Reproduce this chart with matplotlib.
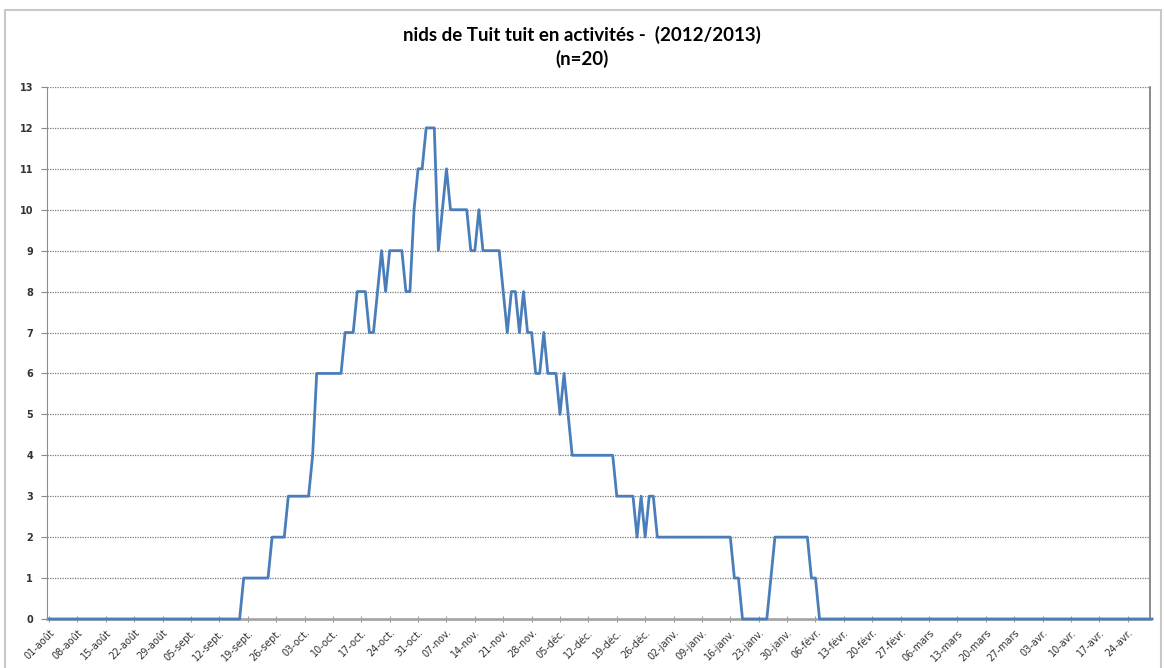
import matplotlib.pyplot as plt
from matplotlib.patches import Rectangle

# nests in activity per day, starting 01 Aug 2012
aout = [0] * 31
sept = [0] * 17 + [1, 1, 1, 1, 1, 1, 1, 2, 2, 2, 2, 3, 3, 3, 3]
octo = [3, 3, 4, 6, 6, 6, 6, 6, 6, 6, 7, 7, 7, 8, 8, 8, 7, 7, 8, 9,
        8, 9, 9, 9, 9, 8, 8, 10, 11, 11, 12]
nov = [12, 12, 9, 10, 11, 10, 10, 10, 10, 10, 9, 9, 10, 9, 9, 9, 9, 9, 8, 7,
       8, 8, 7, 8, 7, 7, 6, 6, 7, 6]
dec = [6, 6, 5, 6, 5, 4, 4, 4, 4, 4, 4, 4, 4, 4, 4, 4, 3, 3, 3, 3,
       3, 2, 3, 2, 3, 3, 2, 2, 2, 2, 2]
janv = [2] * 14 + [1, 1] + [0] * 7 + [1] + [2] * 7
fevr = [2, 2, 1, 1] + [0] * 24
mars = [0] * 31
avr = [0] * 28
actifs = aout + sept + octo + nov + dec + janv + fevr + mars + avr

dates = ['01-août', '08-août', '15-août', '22-août', '29-août', '05-sept.',
         '12-sept.', '19-sept.', '26-sept.', '03-oct.', '10-oct.', '17-oct.',
         '24-oct.', '31-oct.', '07-nov.', '14-nov.', '21-nov.', '28-nov.',
         '05-déc.', '12-déc.', '19-déc.', '26-déc.', '02-janv.', '09-janv.',
         '16-janv.', '23-janv.', '30-janv.', '06-févr.', '13-févr.', '20-févr.',
         '27-févr.', '06-mars', '13-mars', '20-mars', '27-mars', '03-avr.',
         '10-avr.', '17-avr.', '24-avr.']

fig = plt.figure(figsize=(11.64, 6.68), dpi=100)
fig.patches.append(Rectangle((0.004, -0.02), 0.993, 1.005, transform=fig.transFigure,
                             fill=False, edgecolor='#c8c8c8', linewidth=1.5))
ax = fig.add_axes([0.0404, 0.0734, 0.9476, 0.7964])

jours = list(range(len(actifs)))
ax.plot(jours, actifs, color='#4a7ebb', linewidth=2.0, zorder=5, clip_on=False)

ax.set_xlim(-0.5, len(actifs) - 1.5)
ax.set_ylim(0, 13)
ax.set_yticks(range(14))
ax.set_yticklabels([str(v) for v in range(14)], fontsize=7, color='#333333',
                   fontweight='bold')
ax.set_xticks([7 * i for i in range(len(dates))])
ax.set_xticklabels(dates, rotation=45, ha='right', rotation_mode='anchor',
                   fontsize=7, color='#333333')
ax.tick_params(axis='y', length=4, color='#888888', pad=6)
ax.tick_params(axis='x', length=4, direction='inout', color='#999999', pad=4)

for v in range(1, 14):
    ax.axhline(v, color='#7a7a7a', linewidth=0.9, linestyle=(0, (1, 1)), zorder=1)

ax.spines['top'].set_visible(False)
ax.spines['left'].set_color('#8c8c8c')
ax.spines['right'].set_color('#777777')
ax.spines['right'].set_linewidth(1.2)
ax.spines['bottom'].set_color('#a6a6a6')
ax.spines['bottom'].set_linewidth(2)

fig.text(0.5, 0.947, 'nids de Tuit tuit en activités -  (2012/2013)', ha='center',
         va='center', fontsize=13.5, fontweight='bold', family='Lato')
fig.text(0.5, 0.912, '(n=20)', ha='center', va='center', fontsize=13.5,
         fontweight='bold', family='Lato')

fig.savefig('out.png', dpi=100)
